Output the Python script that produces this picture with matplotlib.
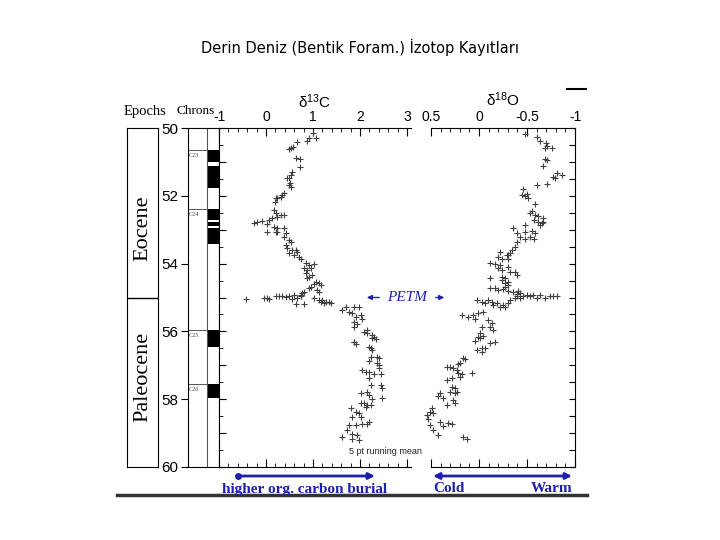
import numpy as np
import matplotlib
matplotlib.use("Agg")
import matplotlib.pyplot as plt
from matplotlib.ticker import MultipleLocator

# benthic d13C record (age Ma, permil)
c13_age = [50.16, 50.30, 50.30, 50.38, 50.40, 50.58, 50.63, 50.55, 50.88, 50.91, 51.14, 51.29,
           51.39, 51.47, 51.48, 51.62, 51.73, 51.68, 51.92, 51.98, 52.03, 52.06, 52.18, 52.06,
           52.42, 52.51, 52.57, 52.57, 52.62, 52.79, 52.78, 52.74, 52.71, 52.66, 52.84, 52.91,
           52.96, 52.94, 53.08, 53.08, 53.06, 53.11, 53.21, 53.30, 53.35, 53.45, 53.55, 53.60,
           53.60, 53.65, 53.70, 53.75, 53.80, 53.86, 53.99, 54.04, 54.02, 54.14, 54.19, 54.14,
           54.29, 54.39, 54.43, 54.34, 54.53, 54.58, 54.63, 54.61, 54.68, 54.73, 54.78, 54.83,
           54.83, 54.88, 54.93,
           55.04, 55.02, 55.02, 55.04, 54.95, 54.97, 54.97, 54.99, 54.97, 54.92, 55.04, 55.02,
           54.97, 55.20, 55.20,
           55.02, 55.07, 55.07, 55.12, 55.12, 55.17, 55.17, 55.12,
           55.37, 55.27, 55.42, 55.47, 55.27, 55.27, 55.57, 55.52, 55.62, 55.72, 55.77, 55.87,
           55.96, 56.01, 56.06, 56.11, 56.16, 56.31, 56.76, 56.99,
           56.20, 56.23, 56.30, 56.38, 56.45, 56.55, 56.50, 56.75, 56.78, 56.87, 56.94, 57.07,
           57.14, 57.19, 57.21, 57.27, 57.27, 57.38, 57.58, 57.58, 57.68, 57.83, 57.78, 57.88,
           57.98, 57.96, 58.12, 58.12, 58.17, 58.17, 58.22, 58.27, 58.37, 58.42, 58.52, 58.52,
           58.67, 58.76, 58.76, 58.74, 58.74, 58.91, 59.04, 59.06, 59.11, 59.17, 59.20]
c13_val = [1.00, 0.91, 1.06, 0.87, 0.66, 0.53, 0.49, 0.57, 0.64, 0.72, 0.72, 0.55,
           0.53, 0.49, 0.45, 0.51, 0.53, 0.49, 0.38, 0.34, 0.32, 0.21, 0.19, 0.23,
           0.17, 0.21, 0.32, 0.38, 0.23, -0.26, -0.19, -0.09, 0.06, 0.13, 0.02, 0.17,
           0.23, 0.38, 0.02, 0.21, 0.23, 0.43, 0.38, 0.49, 0.53, 0.43, 0.45, 0.55,
           0.64, 0.66, 0.49, 0.60, 0.70, 0.74, 0.85, 0.91, 1.02, 0.81, 0.87, 0.96,
           0.85, 0.91, 0.87, 0.98, 1.06, 1.13, 1.17, 1.02, 0.96, 0.91, 1.09, 1.13,
           0.81, 0.77, 0.74,
           -0.43, -0.04, 0.02, 0.06, 0.21, 0.28, 0.34, 0.43, 0.49, 0.60, 0.55, 0.66,
           0.74, 0.64, 0.81,
           1.02, 1.13, 1.19, 1.28, 1.34, 1.23, 1.38, 1.17,
           1.62, 1.70, 1.77, 1.83, 1.87, 1.98, 1.91, 2.02, 2.04, 1.87, 1.94, 1.87,
           2.15, 2.09, 2.15, 2.26, 2.30, 1.87, 2.36, 2.40,
           2.26, 2.34, 1.87, 1.91, 2.19, 2.26, 2.23, 2.23, 2.40, 2.19, 2.36, 2.40,
           2.04, 2.13, 2.19, 2.30, 2.45, 2.19, 2.23, 2.45, 2.47, 2.02, 2.15, 2.19,
           2.26, 2.47, 2.02, 2.09, 2.15, 2.23, 2.13, 1.81, 1.91, 1.98, 1.83, 2.02,
           2.19, 1.77, 1.91, 2.04, 2.15, 1.72, 1.83, 1.94, 1.62, 1.83, 1.98]

# benthic d18O record (age Ma, permil)
o18_age = [50.19, 50.28, 50.38, 50.45, 50.60, 50.60, 50.52, 50.90, 50.94, 51.11, 51.44, 51.34,
           51.39, 51.48, 51.68, 51.66, 51.80, 51.98, 52.00, 51.96, 52.06, 52.25, 52.45, 52.52,
           52.57, 52.59, 52.65, 52.71, 52.76, 52.81, 52.86, 52.78, 52.94, 53.11, 52.86, 53.08,
           53.04, 53.11, 53.21, 53.26, 53.21, 53.26, 53.35, 53.50, 53.60, 53.70, 53.75, 53.65,
           53.80, 53.85, 53.75, 53.85, 53.99, 54.02, 54.04, 54.14, 54.19, 54.09, 54.24, 54.24,
           54.34, 54.39, 54.43, 54.48, 54.43, 54.53, 54.58, 54.63, 54.68, 54.71, 54.73, 54.78,
           54.75, 54.81, 54.83, 54.81, 54.91, 54.88,
           54.97, 54.92, 54.97, 54.94, 55.00, 54.94, 55.00, 54.97, 54.97, 54.95, 55.02, 54.97,
           55.02,
           55.07, 55.12, 55.17, 55.07, 55.12, 55.22, 55.17, 55.27, 55.22, 55.27, 55.07, 55.17,
           55.52, 55.57, 55.52, 55.47, 55.44, 55.62, 55.66, 55.76, 55.86, 55.96, 55.86, 56.06,
           56.16,
           56.28, 56.19, 56.14, 56.55, 56.50, 56.48, 56.35, 56.32, 56.62, 56.79, 56.81, 56.94,
           56.97, 57.04, 57.06, 57.09, 57.14, 57.24, 57.27, 57.24, 57.34, 57.43, 57.38, 57.63,
           57.68, 57.78, 57.83, 57.78, 57.83, 57.92, 57.97, 58.17, 58.02, 58.12, 58.27, 58.37,
           58.47, 58.57, 58.42, 58.67, 58.69, 58.72, 58.78, 58.76, 58.91, 59.06, 59.11, 59.17]
o18_val = [-0.48, -0.60, -0.64, -0.70, -0.69, -0.76, -0.71, -0.69, -0.71, -0.67, -0.77, -0.81,
           -0.86, -0.79, -0.60, -0.71, -0.46, -0.45, -0.48, -0.50, -0.51, -0.58, -0.55, -0.53,
           -0.58, -0.61, -0.67, -0.57, -0.61, -0.66, -0.64, -0.67, -0.35, -0.40, -0.48, -0.48,
           -0.55, -0.58, -0.43, -0.48, -0.53, -0.57, -0.40, -0.37, -0.34, -0.32, -0.30, -0.22,
           -0.20, -0.24, -0.29, -0.30, -0.11, -0.17, -0.22, -0.20, -0.24, -0.30, -0.32, -0.37,
           -0.40, -0.24, -0.27, -0.24, -0.11, -0.30, -0.27, -0.30, -0.27, -0.11, -0.17, -0.20,
           -0.25, -0.30, -0.35, -0.41, -0.40, -0.43,
           -0.46, -0.50, -0.53, -0.56, -0.60, -0.64, -0.69, -0.74, -0.77, -0.81, -0.43, -0.40,
           -0.37,
           0.02, -0.03, -0.06, -0.09, -0.14, -0.15, -0.19, -0.22, -0.25, -0.27, -0.32, -0.30,
           0.18, 0.11, 0.06, 0.01, -0.04, 0.04, -0.09, -0.14, -0.11, -0.15, -0.03, -0.01,
           0.01,
           0.04, -0.01, -0.04, 0.02, -0.03, -0.06, -0.11, -0.17, -0.03, 0.17, 0.15, 0.20,
           0.22, 0.33, 0.30, 0.27, 0.23, 0.22, 0.18, 0.07, 0.20, 0.33, 0.28, 0.28,
           0.25, 0.30, 0.25, 0.23, 0.41, 0.43, 0.38, 0.33, 0.27, 0.25, 0.49, 0.51,
           0.54, 0.53, 0.48, 0.41, 0.32, 0.28, 0.38, 0.51, 0.48, 0.43, 0.17, 0.13]

# tick labels as printed on the figure
c13_ticks = [-1, 0, 1, 2, 3]
c13_ticklabels = ["-1", "0", "1", "2", "3"]
o18_ticks = [0.5, 0, -0.5, -1]
o18_ticklabels = ["0.5", "0", "-0.5", "-1"]

# magnetic chrons: labels, top boundaries, black intervals
chron_names = ["C23", "C24", "C25", "C26"]
chron_tops = [50.65, 52.39, 55.96, 57.55]
chron_black = [(50.65, 51.0), (51.12, 51.77), (52.39, 52.72), (52.78, 52.88), (52.94, 53.42),
               (55.96, 56.46), (57.55, 57.96)]
epoch_names = ["Eocene", "Paleocene"]
epoch_mid = [52.95, 57.35]
epoch_boundary = 55.0

W, H = 720, 540
fig = plt.figure(figsize=(7.2, 5.4), dpi=100)
fig.patch.set_facecolor("white")


def rect(x0, y0, x1, y1):
    return [x0 / W, 1 - y1 / H, (x1 - x0) / W, (y1 - y0) / H]


serif = "Liberation Serif"
sans = "Liberation Sans"
blue = "#1f1fae"
ink = "#404040"

fig.text(360 / W, 1 - 47 / H, "Derin Deniz (Bentik Foram.) İzotop Kayıtları",
         ha="center", va="center", fontsize=10.5, family="DejaVu Sans")

# epochs column
ax_ep = fig.add_axes(rect(127, 128, 158, 467))
ax_ep.set_ylim(60, 50)
ax_ep.set_xlim(0, 1)
ax_ep.set_xticks([])
ax_ep.set_yticks([])
ax_ep.axhline(epoch_boundary, color="k", lw=1)
for name, mid in zip(epoch_names, epoch_mid):
    ax_ep.text(0.5, mid, name, rotation=90, ha="center", va="center",
               fontsize=16, family=serif)

# chrons column
ax_ch = fig.add_axes(rect(188, 128, 219, 467))
ax_ch.set_ylim(60, 50)
ax_ch.set_xlim(0, 1)
ax_ch.set_xticks([])
ax_ch.yaxis.set_major_locator(MultipleLocator(2))
ax_ch.tick_params(axis="y", direction="out", length=5, labelsize=11, pad=2)
for lab in ax_ch.get_yticklabels():
    lab.set_family(sans)
ax_ch.axvline(0.61, color="#555555", lw=0.8)
for a, b in chron_black:
    ax_ch.fill_between([0.61, 1], a, b, color="black", lw=0)
for name, top in zip(chron_names, chron_tops):
    ax_ch.plot([0, 0.61], [top, top], color="#555555", lw=0.7)
    ax_ch.text(0.04, top + 0.08, name, fontsize=4.5, family=serif, va="top", color="#444444")

# d13C panel
ax1 = fig.add_axes(rect(219, 128, 411, 467))
ax1.plot(c13_val, c13_age, "+", color=ink, ms=4.5, mew=0.8, ls="none", clip_on=False)
ax1.set_xlim(-1, -1 + 192 / 47)
ax1.set_ylim(60, 50)
ax1.set_xticks(c13_ticks)
ax1.set_xticklabels(c13_ticklabels, family=sans)
ax1.xaxis.set_minor_locator(MultipleLocator(0.2))
ax1.yaxis.set_major_locator(MultipleLocator(1))
ax1.yaxis.set_minor_locator(MultipleLocator(0.5))
ax1.tick_params(axis="x", which="both", direction="in", top=True, bottom=True,
                labeltop=True, labelbottom=False, labelsize=10, pad=3)
ax1.tick_params(axis="x", which="major", length=6)
ax1.tick_params(axis="x", which="minor", length=3)
ax1.tick_params(axis="y", which="both", direction="in", left=True, right=False,
                labelleft=False)
ax1.tick_params(axis="y", which="major", length=5)
ax1.tick_params(axis="y", which="minor", length=3)
ax1.spines["right"].set_visible(False)
ax1.text(96 / 192, 1 + 17 / 339, r"$\mathregular{\delta^{13}}$C", transform=ax1.transAxes,
         ha="center", va="bottom", fontsize=11, family=sans)
ax1.text(-1 + 203 / 47, 59.55, "5 pt running mean", ha="right", va="center",
         fontsize=6.5, family=sans, color="#222222")
ax1.annotate("", xy=(-1 + 145 / 47, 55.0), xytext=(-1 + 163 / 47, 55.0),
             arrowprops=dict(arrowstyle="-|>", color=blue, lw=1, mutation_scale=7),
             annotation_clip=False)
ax1.text(-1 + 168 / 47, 55.0, "PETM", color=blue, fontsize=11, style="italic",
         family=serif, va="center", ha="left", clip_on=False)

# d18O panel
ax2 = fig.add_axes(rect(431, 128, 575, 467))
ax2.plot(o18_val, o18_age, "+", color=ink, ms=4.5, mew=0.8, ls="none", clip_on=False)
ax2.set_xlim(0.5, -1.0)
ax2.set_ylim(60, 50)
ax2.set_xticks(o18_ticks)
ax2.set_xticklabels(o18_ticklabels, family=sans)
ax2.xaxis.set_minor_locator(MultipleLocator(0.1))
ax2.yaxis.set_major_locator(MultipleLocator(0.5))
ax2.tick_params(axis="x", which="both", direction="in", top=True, bottom=True,
                labeltop=True, labelbottom=False, labelsize=10, pad=3)
ax2.tick_params(axis="x", which="major", length=6)
ax2.tick_params(axis="x", which="minor", length=3)
ax2.tick_params(axis="y", direction="in", left=False, right=True, labelleft=False,
                length=4)
ax2.spines["left"].set_visible(False)
ax2.text(72 / 144, 1 + 19 / 339, r"$\mathregular{\delta^{18}}$O", transform=ax2.transAxes,
         ha="center", va="bottom", fontsize=11, family=sans)
ax2.annotate("", xy=(0.5 - 16 / 96, 55.0), xytext=(0.5 - 2 / 96, 55.0),
             arrowprops=dict(arrowstyle="-|>", color=blue, lw=1, mutation_scale=7),
             annotation_clip=False)

# bottom annotations and headers
ax_bg = fig.add_axes([0, 0, 1, 1], zorder=-1)
ax_bg.set_xlim(0, W)
ax_bg.set_ylim(H, 0)
ax_bg.axis("off")
ax_bg.annotate("", xy=(375, 476), xytext=(238, 476),
               arrowprops=dict(arrowstyle="-|>", color=blue, lw=2, mutation_scale=9,
                               shrinkA=0, shrinkB=0))
ax_bg.plot([238], [476], "o", color=blue, ms=4)
ax_bg.annotate("", xy=(572, 476), xytext=(433, 476),
               arrowprops=dict(arrowstyle="<|-|>", color=blue, lw=2, mutation_scale=9,
                               shrinkA=0, shrinkB=0))
ax_bg.text(305, 489, "higher org. carbon burial", color=blue, fontsize=11,
           weight="bold", family=serif, ha="center", va="center")
ax_bg.text(449, 489, "Cold", color=blue, fontsize=11, weight="bold", family=serif,
           ha="center", va="center")
ax_bg.text(552, 489, "Warm", color=blue, fontsize=11, weight="bold", family=serif,
           ha="center", va="center")
ax_bg.plot([117, 587], [494.5, 494.5], color="#333333", lw=2.5)
ax_bg.plot([567, 586], [89, 89], color="black", lw=1.5)
ax_bg.text(145, 111, "Epochs", fontsize=10.5, family=serif, ha="center", va="center")
ax_bg.text(196, 111, "Chrons", fontsize=9.5, family=serif, ha="center", va="center")

fig.savefig("out.png", dpi=100, facecolor="white")
